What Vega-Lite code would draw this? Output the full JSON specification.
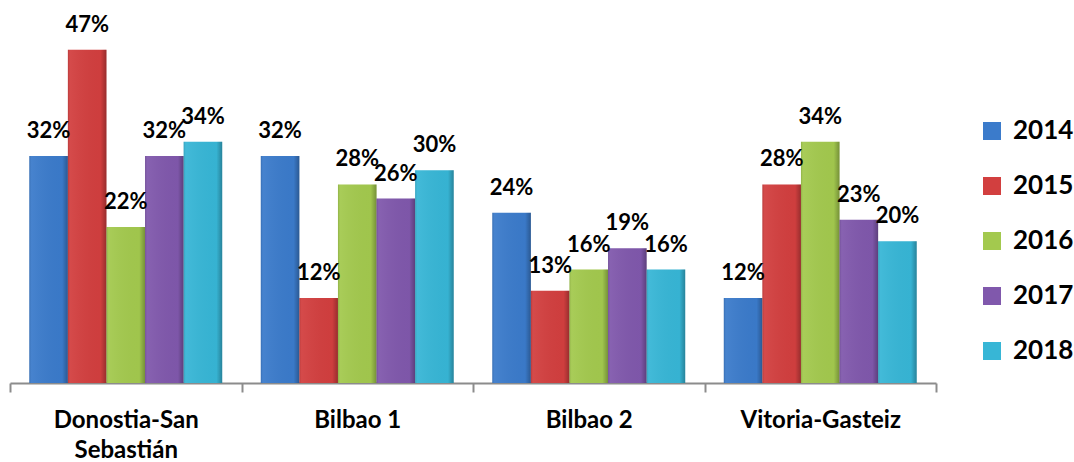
{
  "$schema": "https://vega.github.io/schema/vega-lite/v6.json",
  "width": 926,
  "height": 383,
  "autosize": "none",
  "padding": {"left": 10, "top": 0, "right": 138, "bottom": 79},
  "background": "white",
  "config": {"view": {"stroke": null}, "font": "Lato"},
  "data": {
    "values": [
      {"site": "Donostia-San Sebastián", "year": "2014", "value": 0.32},
      {"site": "Donostia-San Sebastián", "year": "2015", "value": 0.47},
      {"site": "Donostia-San Sebastián", "year": "2016", "value": 0.22},
      {"site": "Donostia-San Sebastián", "year": "2017", "value": 0.32},
      {"site": "Donostia-San Sebastián", "year": "2018", "value": 0.34},
      {"site": "Bilbao 1", "year": "2014", "value": 0.32},
      {"site": "Bilbao 1", "year": "2015", "value": 0.12},
      {"site": "Bilbao 1", "year": "2016", "value": 0.28},
      {"site": "Bilbao 1", "year": "2017", "value": 0.26},
      {"site": "Bilbao 1", "year": "2018", "value": 0.30},
      {"site": "Bilbao 2", "year": "2014", "value": 0.24},
      {"site": "Bilbao 2", "year": "2015", "value": 0.13},
      {"site": "Bilbao 2", "year": "2016", "value": 0.16},
      {"site": "Bilbao 2", "year": "2017", "value": 0.19},
      {"site": "Bilbao 2", "year": "2018", "value": 0.16},
      {"site": "Vitoria-Gasteiz", "year": "2014", "value": 0.12},
      {"site": "Vitoria-Gasteiz", "year": "2015", "value": 0.28},
      {"site": "Vitoria-Gasteiz", "year": "2016", "value": 0.34},
      {"site": "Vitoria-Gasteiz", "year": "2017", "value": 0.23},
      {"site": "Vitoria-Gasteiz", "year": "2018", "value": 0.20}
    ]
  },
  "encoding": {
    "x": {
      "field": "site", "type": "nominal", "sort": null,
      "scale": {"paddingInner": 0, "paddingOuter": 0},
      "axis": {
        "title": null, "tickBand": "extent", "labelAngle": 0,
        "domainColor": "#8c8c8c", "domainWidth": 2, "tickColor": "#8c8c8c", "tickWidth": 2, "tickSize": 9,
        "labelFont": "Lato", "labelFontSize": 24, "labelFontWeight": "bold", "labelColor": "#000000",
        "labelPadding": 16, "labelLineHeight": 30,
        "labelExpr": "datum.label == 'Donostia-San Sebastián' ? ['Donostia-San', 'Sebastián'] : datum.label"
      }
    },
    "xOffset": {"field": "year", "type": "nominal", "scale": {"paddingInner": 0, "paddingOuter": 0.5}},
    "y": {"field": "value", "type": "quantitative", "scale": {"domain": [0, 0.54]}, "axis": null}
  },
  "layer": [
    {
      "mark": {"type": "bar", "strokeWidth": 0},
      "encoding": {
        "color": {
          "field": "year", "type": "nominal",
          "scale": {"domain": ["2014", "2015", "2016", "2017", "2018"], "range": ["#3B7BCB", "#D23F3F", "#A3C94E", "#8058AC", "#37B6D6"]},
          "legend": {
            "title": null, "orient": "none", "legendX": 969, "legendY": 118,
            "symbolType": "square", "symbolSize": 324, "symbolStrokeWidth": 0,
            "labelFont": "Lato", "labelFontSize": 26, "labelFontWeight": "bold", "labelColor": "#000000",
            "rowPadding": 29, "labelOffset": 8
          }
        }
      }
    },
    {
      "mark": {
        "type": "bar",
        "color": {
          "gradient": "linear", "x1": 0, "x2": 1, "y1": 0, "y2": 0,
          "stops": [
            {"offset": 0, "color": "rgba(0,0,0,0.12)"},
            {"offset": 0.06, "color": "rgba(255,255,255,0.06)"},
            {"offset": 0.85, "color": "rgba(0,0,0,0.02)"},
            {"offset": 1, "color": "rgba(0,0,0,0.28)"}
          ]
        }
      }
    },
    {
      "mark": {"type": "text", "baseline": "alphabetic", "dy": -18, "font": "Lato", "fontSize": 22, "fontWeight": "bold", "color": "#000000"},
      "encoding": {"text": {"field": "value", "type": "quantitative", "format": ".0%"}}
    }
  ]
}
